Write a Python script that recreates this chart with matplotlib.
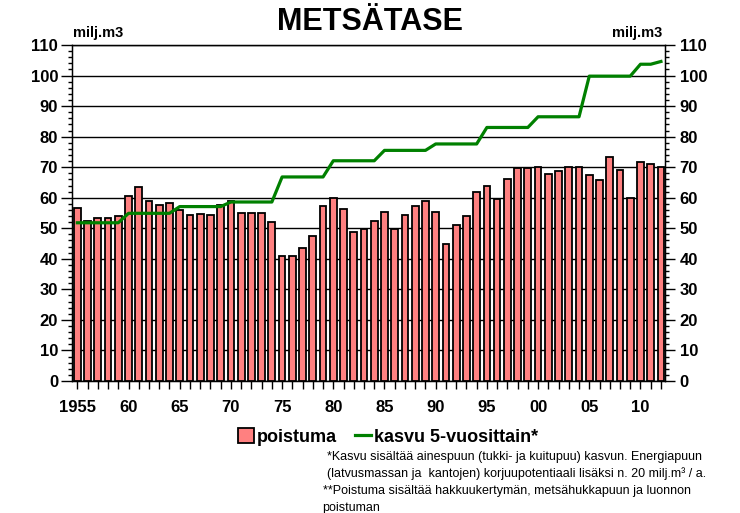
import matplotlib
matplotlib.use('Agg')
import matplotlib.pyplot as plt
from matplotlib.patches import Patch
from matplotlib.lines import Line2D
from matplotlib.ticker import MultipleLocator

plt.rcParams['font.family'] = ['Liberation Sans', 'DejaVu Sans']

years = list(range(1955, 2013))
poistuma = [56.6, 52.5, 53.2, 53.4, 54.1, 60.5, 63.5, 59.0, 57.6, 58.4,
            56.1, 54.3, 54.7, 54.3, 57.6, 59.0, 55.0, 55.0, 55.0, 52.2,
            40.9, 40.9, 43.4, 47.5, 57.3, 59.8, 56.3, 48.8, 49.7, 52.4,
            55.3, 49.8, 54.3, 57.3, 58.9, 55.3, 44.9, 51.1, 54.0, 61.8,
            64.0, 59.5, 66.0, 69.8, 69.8, 70.2, 67.8, 68.9, 70.2, 70.2,
            67.5, 65.7, 73.2, 69.2, 60.0, 71.7, 71.1, 70.2]
kasvu = [51.8, 51.8, 51.8, 51.8, 51.8, 54.9, 54.9, 54.9, 54.9, 54.9,
         57.1, 57.1, 57.1, 57.1, 57.1, 58.6, 58.6, 58.6, 58.6, 58.6,
         66.8, 66.8, 66.8, 66.8, 66.8, 72.1, 72.1, 72.1, 72.1, 72.1,
         75.5, 75.5, 75.5, 75.5, 75.5, 77.6, 77.6, 77.6, 77.6, 77.6,
         83.0, 83.0, 83.0, 83.0, 83.0, 86.5, 86.5, 86.5, 86.5, 86.5,
         99.8, 99.8, 99.8, 99.8, 99.8, 103.7, 103.7, 104.6]
year_labels = {1955: '1955', 1960: '60', 1965: '65', 1970: '70', 1975: '75',
               1980: '80', 1985: '85', 1990: '90', 1995: '95', 2000: '00',
               2005: '05', 2010: '10'}
footnotes = [
    (0.442, '*Kasvu sisältää ainespuun (tukki- ja kuitupuu) kasvun. Energiapuun'),
    (0.442, '(latvusmassan ja  kantojen) korjuupotentiaali lisäksi n. 20 milj.m³ / a.'),
    (0.436, '**Poistuma sisältää hakkuukertymän, metsähukkapuun ja luonnon'),
    (0.436, 'poistuman'),
]

bar_color = '#FF8080'
line_color = '#008000'

fig = plt.figure(figsize=(7.4, 5.13), dpi=100)
ax = fig.add_axes([0.0973, 0.2573, 0.8014, 0.655])

ax.bar(years, poistuma, width=0.66, color=bar_color, edgecolor='black',
       linewidth=1.3, zorder=3)
ax.plot(years, kasvu, color=line_color, linewidth=2.3, zorder=4)

ax.set_xlim(1954.48, 2012.4)
ax.set_ylim(0, 110)
ax.yaxis.set_major_locator(MultipleLocator(10))
ax.yaxis.set_minor_locator(MultipleLocator(2))
ax.grid(axis='y', color='black', linewidth=1, zorder=1)
ax.set_xticks(years)
ax.set_xticklabels([year_labels.get(y, '') for y in years],
                   fontsize=12, fontweight='bold')
ax.tick_params(axis='x', direction='out', length=6, width=1, pad=8)
ax.tick_params(axis='y', which='major', direction='out', length=8, width=1,
               labelsize=12, pad=2)
ax.tick_params(axis='y', which='minor', direction='out', length=3, width=1)
for lab in ax.get_yticklabels():
    lab.set_fontweight('bold')
for sp in ax.spines.values():
    sp.set_linewidth(1)

ax2 = ax.twinx()
ax2.set_ylim(0, 110)
ax2.yaxis.set_major_locator(MultipleLocator(10))
ax2.yaxis.set_minor_locator(MultipleLocator(2))
ax2.tick_params(axis='y', which='major', direction='out', length=7, width=1,
                labelsize=12)
ax2.tick_params(axis='y', which='minor', direction='out', length=3, width=1)
for lab in ax2.get_yticklabels():
    lab.set_fontweight('bold')

fig.text(0.5, 0.9415, 'METSÄTASE', ha='center', va='baseline', fontsize=22,
         fontweight='bold', family=['Liberation Sans Narrow', 'Liberation Sans'])
fig.text(0.098, 0.936, 'milj.m3', ha='left', va='center', fontsize=10.5,
         fontweight='bold')
fig.text(0.895, 0.936, 'milj.m3', ha='right', va='center', fontsize=10.5,
         fontweight='bold')

handles = [Patch(facecolor=bar_color, edgecolor='black', linewidth=1.3),
           Line2D([0], [0], color=line_color, linewidth=2.3)]
fig.legend(handles, ['poistuma', 'kasvu 5-vuosittain*'], loc='center',
           bbox_to_anchor=(0.524, 0.148), ncol=2, frameon=False,
           prop={'size': 13, 'weight': 'bold'}, handlelength=0.9,
           handleheight=0.9, handletextpad=0.15, columnspacing=1.0)

y0 = 0.109
for i, (x, txt) in enumerate(footnotes):
    fig.text(x, y0 - i * 0.033, txt, ha='left', va='center', fontsize=9)

fig.savefig('out.png', dpi=100)
